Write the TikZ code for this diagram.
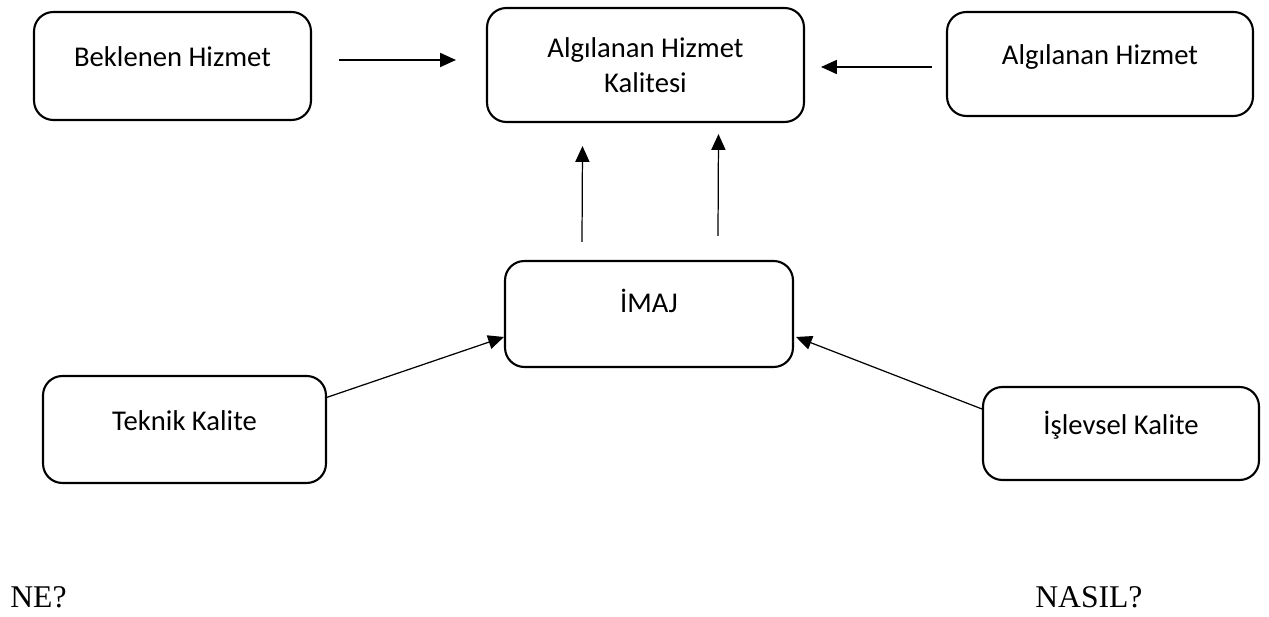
\documentclass[tikz,border=0pt]{standalone}
\usepackage{fontspec}
\setmainfont{Liberation Serif}
\newfontfamily\kalibri{Carlito}
\usetikzlibrary{arrows.meta,calc}

\tikzset{
    kutu/.style={draw=black, line width=1.2pt, rounded corners=11pt, align=center,
        inner sep=0pt, font=\kalibri\fontsize{16.3}{19.8}\selectfont},
    satir/.style={text height=10.5pt, text depth=0.34cm},
    ok/.style={-{Triangle[length=9pt,width=8pt]}, line width=0.7pt},
    soru/.style={anchor=base west, inner sep=0pt, font=\fontsize{18}{21}\selectfont}
}

\begin{document}
\begin{tikzpicture}[x=0.02cm, y=-0.02cm]
    \useasboundingbox (0,0) rectangle (1269,617);
    % boxes
    \node[kutu, satir, minimum width=5.54cm, minimum height=2.16cm] (bek) at (172.5,66) {Beklenen Hizmet};
    \node[kutu, minimum width=6.34cm, minimum height=2.28cm] (aqk) at (645.5,65) {Algılanan Hizmet\\Kalitesi};
    \node[kutu, satir, minimum width=6.12cm, minimum height=2.08cm] (alg) at (1100,64) {Algılanan Hizmet};
    \node[kutu, satir, text depth=0.44cm, minimum width=5.76cm, minimum height=2.12cm] (imaj) at (649,314) {İMAJ};
    \node[kutu, satir, minimum width=5.66cm, minimum height=2.14cm] (tek) at (184.5,429.5) {Teknik Kalite};
    \node[kutu, satir, minimum width=5.52cm, minimum height=1.86cm] (isl) at (1121,433.5) {İşlevsel Kalite};

    % arrows
    \draw[ok] ($(bek.east)+(27,-6)$) -- ($(aqk.west)+(-30,-5)$);
    \draw[ok] ($(alg.west)+(-14,3)$) -- ($(aqk.east)+(16,2)$);
    \draw[ok] ($(imaj.north)+(-67,-18)$) -- ($(aqk.south)+(-63,23)$);
    \draw[ok] ($(imaj.north)+(69,-24)$) -- ($(aqk.south)+(73,11)$);
    \draw[ok] ($(tek.east)+(-2,-31.5)$) -- ($(imaj.west)+(0,23)$);
    \draw[ok] ($(isl.west)+(0,-24.5)$) -- ($(imaj.east)+(2,23)$);

    % questions
    \node[soru] (ne) at (10,608) {NE?};
    \node[soru] (nasil) at (1035,608) {NASIL?};
\end{tikzpicture}
\end{document}
